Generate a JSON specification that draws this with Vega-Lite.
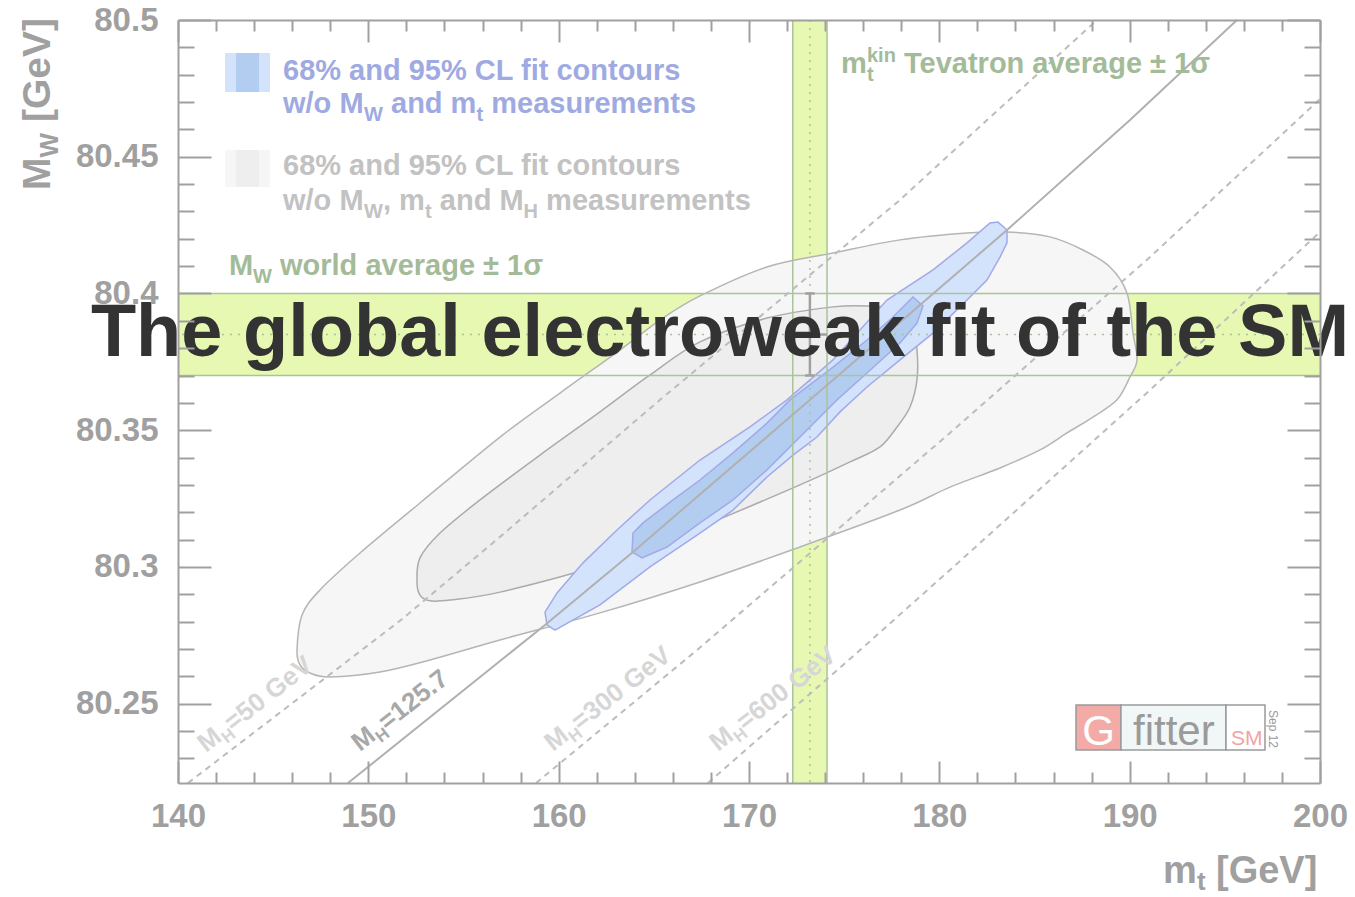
{
  "$schema": "https://vega.github.io/schema/vega-lite/v6.json",
  "width": 1142,
  "height": 763,
  "autosize": "none",
  "padding": {"left": 178, "top": 20, "right": 35, "bottom": 114},
  "background": "white",
  "config": {"view": {"stroke": null}, "font": "Liberation Sans"},
  "resolve": {"axis": {"x": "independent", "y": "independent"}},
  "datasets": {
    "bands": [
      {"b": "h", "x1": 140, "x2": 200, "y1": 80.370, "y2": 80.400},
      {"b": "v", "x1": 172.3, "x2": 174.1, "y1": 80.221, "y2": 80.5}
    ],
    "contours": [
      {"s": "g95", "i": 1, "mt": 146.252, "MW": 80.2696},
      {"s": "g95", "i": 2, "mt": 146.515, "MW": 80.2824},
      {"s": "g95", "i": 3, "mt": 147.461, "MW": 80.2916},
      {"s": "g95", "i": 4, "mt": 149.562, "MW": 80.3051},
      {"s": "g95", "i": 5, "mt": 152.714, "MW": 80.3234},
      {"s": "g95", "i": 6, "mt": 156.918, "MW": 80.3475},
      {"s": "g95", "i": 7, "mt": 160.070, "MW": 80.3636},
      {"s": "g95", "i": 8, "mt": 163.222, "MW": 80.3793},
      {"s": "g95", "i": 9, "mt": 165.324, "MW": 80.3903},
      {"s": "g95", "i": 10, "mt": 167.425, "MW": 80.3991},
      {"s": "g95", "i": 11, "mt": 170.945, "MW": 80.4097},
      {"s": "g95", "i": 12, "mt": 174.413, "MW": 80.4148},
      {"s": "g95", "i": 13, "mt": 177.933, "MW": 80.4196},
      {"s": "g95", "i": 14, "mt": 181.453, "MW": 80.4221},
      {"s": "g95", "i": 15, "mt": 183.555, "MW": 80.4225},
      {"s": "g95", "i": 16, "mt": 185.814, "MW": 80.4207},
      {"s": "g95", "i": 17, "mt": 187.548, "MW": 80.4159},
      {"s": "g95", "i": 18, "mt": 188.966, "MW": 80.4097},
      {"s": "g95", "i": 19, "mt": 189.860, "MW": 80.4002},
      {"s": "g95", "i": 20, "mt": 190.175, "MW": 80.3855},
      {"s": "g95", "i": 21, "mt": 190.385, "MW": 80.3757},
      {"s": "g95", "i": 22, "mt": 190.017, "MW": 80.3695},
      {"s": "g95", "i": 23, "mt": 189.334, "MW": 80.3611},
      {"s": "g95", "i": 24, "mt": 188.073, "MW": 80.3548},
      {"s": "g95", "i": 25, "mt": 186.707, "MW": 80.3490},
      {"s": "g95", "i": 26, "mt": 185.289, "MW": 80.3428},
      {"s": "g95", "i": 27, "mt": 183.187, "MW": 80.3362},
      {"s": "g95", "i": 28, "mt": 180.560, "MW": 80.3292},
      {"s": "g95", "i": 29, "mt": 177.933, "MW": 80.3208},
      {"s": "g95", "i": 30, "mt": 172.679, "MW": 80.3073},
      {"s": "g95", "i": 31, "mt": 167.425, "MW": 80.2945},
      {"s": "g95", "i": 32, "mt": 162.171, "MW": 80.2832},
      {"s": "g95", "i": 33, "mt": 156.918, "MW": 80.2733},
      {"s": "g95", "i": 34, "mt": 153.240, "MW": 80.2660},
      {"s": "g95", "i": 35, "mt": 150.613, "MW": 80.2616},
      {"s": "g95", "i": 36, "mt": 147.986, "MW": 80.2598},
      {"s": "g95", "i": 37, "mt": 146.935, "MW": 80.2612},
      {"s": "g95", "i": 38, "mt": 146.410, "MW": 80.2642},
      {"s": "g68", "i": 1, "mt": 152.557, "MW": 80.2945},
      {"s": "g68", "i": 2, "mt": 152.714, "MW": 80.3033},
      {"s": "g68", "i": 3, "mt": 153.765, "MW": 80.3124},
      {"s": "g68", "i": 4, "mt": 155.867, "MW": 80.3245},
      {"s": "g68", "i": 5, "mt": 159.019, "MW": 80.3409},
      {"s": "g68", "i": 6, "mt": 162.171, "MW": 80.3567},
      {"s": "g68", "i": 7, "mt": 164.798, "MW": 80.3702},
      {"s": "g68", "i": 8, "mt": 167.425, "MW": 80.3823},
      {"s": "g68", "i": 9, "mt": 170.945, "MW": 80.3910},
      {"s": "g68", "i": 10, "mt": 174.413, "MW": 80.3951},
      {"s": "g68", "i": 11, "mt": 176.357, "MW": 80.3954},
      {"s": "g68", "i": 12, "mt": 177.933, "MW": 80.3940},
      {"s": "g68", "i": 13, "mt": 178.564, "MW": 80.3896},
      {"s": "g68", "i": 14, "mt": 178.826, "MW": 80.3793},
      {"s": "g68", "i": 15, "mt": 178.826, "MW": 80.3684},
      {"s": "g68", "i": 16, "mt": 178.459, "MW": 80.3585},
      {"s": "g68", "i": 17, "mt": 177.776, "MW": 80.3512},
      {"s": "g68", "i": 18, "mt": 176.882, "MW": 80.3439},
      {"s": "g68", "i": 19, "mt": 175.306, "MW": 80.3384},
      {"s": "g68", "i": 20, "mt": 172.679, "MW": 80.3300},
      {"s": "g68", "i": 21, "mt": 167.425, "MW": 80.3146},
      {"s": "g68", "i": 22, "mt": 162.171, "MW": 80.3007},
      {"s": "g68", "i": 23, "mt": 156.918, "MW": 80.2908},
      {"s": "g68", "i": 24, "mt": 154.291, "MW": 80.2879},
      {"s": "g68", "i": 25, "mt": 153.240, "MW": 80.2876},
      {"s": "g68", "i": 26, "mt": 152.714, "MW": 80.2897},
      {"s": "b95", "i": 1, "mt": 159.387, "MW": 80.2788},
      {"s": "b95", "i": 2, "mt": 159.282, "MW": 80.2835},
      {"s": "b95", "i": 3, "mt": 159.912, "MW": 80.2905},
      {"s": "b95", "i": 4, "mt": 161.278, "MW": 80.3015},
      {"s": "b95", "i": 5, "mt": 163.065, "MW": 80.3135},
      {"s": "b95", "i": 6, "mt": 164.798, "MW": 80.3245},
      {"s": "b95", "i": 7, "mt": 167.425, "MW": 80.3391},
      {"s": "b95", "i": 8, "mt": 170.052, "MW": 80.3512},
      {"s": "b95", "i": 9, "mt": 171.996, "MW": 80.3611},
      {"s": "b95", "i": 10, "mt": 174.413, "MW": 80.3757},
      {"s": "b95", "i": 11, "mt": 177.249, "MW": 80.3976},
      {"s": "b95", "i": 12, "mt": 179.667, "MW": 80.4086},
      {"s": "b95", "i": 13, "mt": 181.453, "MW": 80.4185},
      {"s": "b95", "i": 14, "mt": 182.662, "MW": 80.4258},
      {"s": "b95", "i": 15, "mt": 183.082, "MW": 80.4261},
      {"s": "b95", "i": 16, "mt": 183.555, "MW": 80.4232},
      {"s": "b95", "i": 17, "mt": 183.555, "MW": 80.4185},
      {"s": "b95", "i": 18, "mt": 183.187, "MW": 80.4133},
      {"s": "b95", "i": 19, "mt": 182.504, "MW": 80.4049},
      {"s": "b95", "i": 20, "mt": 181.453, "MW": 80.3976},
      {"s": "b95", "i": 21, "mt": 179.667, "MW": 80.3855},
      {"s": "b95", "i": 22, "mt": 177.933, "MW": 80.3757},
      {"s": "b95", "i": 23, "mt": 176.199, "MW": 80.3658},
      {"s": "b95", "i": 24, "mt": 174.781, "MW": 80.3567},
      {"s": "b95", "i": 25, "mt": 173.572, "MW": 80.3475},
      {"s": "b95", "i": 26, "mt": 172.311, "MW": 80.3409},
      {"s": "b95", "i": 27, "mt": 170.945, "MW": 80.3329},
      {"s": "b95", "i": 28, "mt": 169.159, "MW": 80.3208},
      {"s": "b95", "i": 29, "mt": 167.425, "MW": 80.3124},
      {"s": "b95", "i": 30, "mt": 164.798, "MW": 80.3000},
      {"s": "b95", "i": 31, "mt": 162.171, "MW": 80.2861},
      {"s": "b95", "i": 32, "mt": 159.807, "MW": 80.2769},
      {"s": "b68", "i": 1, "mt": 163.853, "MW": 80.3055},
      {"s": "b68", "i": 2, "mt": 163.906, "MW": 80.3124},
      {"s": "b68", "i": 3, "mt": 164.431, "MW": 80.3161},
      {"s": "b68", "i": 4, "mt": 166.007, "MW": 80.3245},
      {"s": "b68", "i": 5, "mt": 167.425, "MW": 80.3318},
      {"s": "b68", "i": 6, "mt": 169.159, "MW": 80.3417},
      {"s": "b68", "i": 7, "mt": 170.945, "MW": 80.3526},
      {"s": "b68", "i": 8, "mt": 172.154, "MW": 80.3611},
      {"s": "b68", "i": 9, "mt": 174.413, "MW": 80.3731},
      {"s": "b68", "i": 10, "mt": 176.199, "MW": 80.3830},
      {"s": "b68", "i": 11, "mt": 177.565, "MW": 80.3914},
      {"s": "b68", "i": 12, "mt": 178.616, "MW": 80.3987},
      {"s": "b68", "i": 13, "mt": 179.142, "MW": 80.3954},
      {"s": "b68", "i": 14, "mt": 178.826, "MW": 80.3892},
      {"s": "b68", "i": 15, "mt": 177.933, "MW": 80.3819},
      {"s": "b68", "i": 16, "mt": 176.199, "MW": 80.3709},
      {"s": "b68", "i": 17, "mt": 174.623, "MW": 80.3611},
      {"s": "b68", "i": 18, "mt": 172.679, "MW": 80.3475},
      {"s": "b68", "i": 19, "mt": 170.945, "MW": 80.3355},
      {"s": "b68", "i": 20, "mt": 169.159, "MW": 80.3245},
      {"s": "b68", "i": 21, "mt": 167.425, "MW": 80.3161},
      {"s": "b68", "i": 22, "mt": 165.692, "MW": 80.3073},
      {"s": "b68", "i": 23, "mt": 164.378, "MW": 80.3033}
    ],
    "mhlines": [
      {"mh": "125.7", "i": 1, "mt": 148.932, "MW": 80.221},
      {"mh": "125.7", "i": 2, "mt": 159.282, "MW": 80.2788},
      {"mh": "125.7", "i": 3, "mt": 163.906, "MW": 80.3055},
      {"mh": "125.7", "i": 4, "mt": 173.205, "MW": 80.3611},
      {"mh": "125.7", "i": 5, "mt": 183.555, "MW": 80.4232},
      {"mh": "125.7", "i": 6, "mt": 190.017, "MW": 80.4634},
      {"mh": "125.7", "i": 7, "mt": 195.639, "MW": 80.5},
      {"mh": "50", "i": 1, "mt": 140.525, "MW": 80.221},
      {"mh": "50", "i": 2, "mt": 151.716, "MW": 80.2806},
      {"mh": "50", "i": 3, "mt": 156.918, "MW": 80.3110},
      {"mh": "50", "i": 4, "mt": 165.324, "MW": 80.3611},
      {"mh": "50", "i": 5, "mt": 177.933, "MW": 80.4342},
      {"mh": "50", "i": 6, "mt": 182.504, "MW": 80.4634},
      {"mh": "50", "i": 7, "mt": 188.283, "MW": 80.5},
      {"mh": "300", "i": 1, "mt": 158.809, "MW": 80.221},
      {"mh": "300", "i": 2, "mt": 167.268, "MW": 80.2696},
      {"mh": "300", "i": 3, "mt": 180.560, "MW": 80.3490},
      {"mh": "300", "i": 4, "mt": 191.068, "MW": 80.4133},
      {"mh": "300", "i": 5, "mt": 200, "MW": 80.4711},
      {"mh": "600", "i": 1, "mt": 167.846, "MW": 80.221},
      {"mh": "600", "i": 2, "mt": 175.832, "MW": 80.2696},
      {"mh": "600", "i": 3, "mt": 180.560, "MW": 80.2989},
      {"mh": "600", "i": 4, "mt": 191.068, "MW": 80.3647},
      {"mh": "600", "i": 5, "mt": 200, "MW": 80.4225}
    ],
    "errbars": [
      {"mt": 173.2, "mt2": 173.2, "MW": 80.370, "MW2": 80.400},
      {"mt": 172.3, "mt2": 174.1, "MW": 80.385, "MW2": 80.385},
      {"mt": 172.95, "mt2": 173.45, "MW": 80.400, "MW2": 80.400},
      {"mt": 172.95, "mt2": 173.45, "MW": 80.370, "MW2": 80.370}
    ],
    "rects": [
      {"c": "b95", "x1": 142.469, "x2": 144.834, "y1": 80.4737, "y2": 80.4879},
      {"c": "b68", "x1": 143.047, "x2": 144.256, "y1": 80.4737, "y2": 80.4879},
      {"c": "g95", "x1": 142.469, "x2": 144.834, "y1": 80.4389, "y2": 80.4525},
      {"c": "g68", "x1": 143.047, "x2": 144.256, "y1": 80.4389, "y2": 80.4525},
      {"c": "G", "x1": 187.180, "x2": 189.544, "y1": 80.2331, "y2": 80.2495},
      {"c": "fitter", "x1": 189.544, "x2": 195.061, "y1": 80.2331, "y2": 80.2495},
      {"c": "SM", "x1": 195.061, "x2": 197.110, "y1": 80.2331, "y2": 80.2495}
    ],
    "texts": [
      {"g": "blue", "t": "68% and 95% CL fit contours", "mt": 145.517, "MW": 80.4781},
      {"g": "blue", "t": "w/o M", "mt": 145.517, "MW": 80.4660},
      {"g": "blueSub", "t": "W", "mt": 149.772, "MW": 80.4631},
      {"g": "blue", "t": "and m", "mt": 151.191, "MW": 80.4660},
      {"g": "blueSub", "t": "t", "mt": 155.683, "MW": 80.4631},
      {"g": "blue", "t": "measurements", "mt": 156.461, "MW": 80.4660},
      {"g": "gray", "t": "68% and 95% CL fit contours", "mt": 145.517, "MW": 80.4433},
      {"g": "gray", "t": "w/o M", "mt": 145.517, "MW": 80.4305},
      {"g": "graySub", "t": "W", "mt": 149.772, "MW": 80.4276},
      {"g": "gray", "t": ", m", "mt": 150.770, "MW": 80.4305},
      {"g": "graySub", "t": "t", "mt": 152.977, "MW": 80.4276},
      {"g": "gray", "t": "and M", "mt": 153.755, "MW": 80.4305},
      {"g": "graySub", "t": "H", "mt": 158.152, "MW": 80.4276},
      {"g": "gray", "t": "measurements", "mt": 159.340, "MW": 80.4305},
      {"g": "green", "t": "M", "mt": 142.679, "MW": 80.4068},
      {"g": "greenSub", "t": "W", "mt": 143.940, "MW": 80.4038},
      {"g": "green", "t": "world average ± 1σ", "mt": 145.359, "MW": 80.4068},
      {"g": "green", "t": "m", "mt": 174.833, "MW": 80.4806},
      {"g": "greenSub", "t": "t", "mt": 176.199, "MW": 80.4777},
      {"g": "greenSub", "t": "kin", "mt": 176.199, "MW": 80.4846},
      {"g": "green", "t": "Tevatron average ± 1σ", "mt": 178.143, "MW": 80.4806},
      {"g": "axis", "t": "m", "mt": 191.751, "MW": 80.1844},
      {"g": "axisSub", "t": "t", "mt": 193.537, "MW": 80.1819},
      {"g": "axis", "t": "[GeV]", "mt": 194.536, "MW": 80.1844},
      {"g": "yaxis", "t": "M", "mt": 133.275, "MW": 80.4378},
      {"g": "yaxisSub", "t": "W", "mt": 133.70, "MW": 80.4497},
      {"g": "yaxis", "t": "[GeV]", "mt": 133.275, "MW": 80.4627},
      {"g": "logoG", "t": "G", "mt": 188.365, "MW": 80.2349},
      {"g": "logoFitter", "t": "fitter", "mt": 190.175, "MW": 80.2349},
      {"g": "logoSM", "t": "SM", "mt": 195.324, "MW": 80.2349},
      {"g": "logoDate", "t": "Sep 12", "mt": 197.320, "MW": 80.2477},
      {"g": "title", "t": "The global electroweak fit of the SM", "mt": 168.476, "MW": 80.3771}
    ],
    "linelabels": [
      {"kind": "dashed", "rest": "=50 GeV", "mt": 141.471, "MW": 80.2320},
      {"kind": "solid", "rest": "=125.7", "mt": 149.562, "MW": 80.2323},
      {"kind": "dashed", "rest": "=300 GeV", "mt": 159.702, "MW": 80.2323},
      {"kind": "dashed", "rest": "=600 GeV", "mt": 168.371, "MW": 80.2323}
    ]
  },
  "layer": [
    {
      "data": {"name": "bands"},
      "mark": {"type": "rect", "color": "#e7f8b3"},
      "encoding": {
        "x": {"field": "x1", "type": "quantitative", "scale": {"domain": [140, 200], "nice": false, "zero": false},
          "axis": {"orient": "bottom", "values": [140,142,144,146,148,150,152,154,156,158,160,162,164,166,168,170,172,174,176,178,180,182,184,186,188,190,192,194,196,198,200],
            "title": null, "grid": false, "zindex": 1, "domainColor": "#a0a0a0", "domainWidth": 2, "tickColor": "#a0a0a0", "tickWidth": 2,
            "tickSize": {"condition": {"test": "datum.value % 10 === 0", "value": -22}, "value": -11},
            "labelExpr": "datum.value % 10 === 0 ? datum.label : ''", "labelPadding": 39, "labelFontSize": 33, "labelFontWeight": "bold",
            "labelColor": "#a0a0a0", "labelFont": "Liberation Sans", "labelOverlap": false, "labelFlush": false, "labelBound": false}},
        "x2": {"field": "x2"},
        "y": {"field": "y1", "type": "quantitative", "scale": {"domain": [80.221, 80.5], "nice": false, "zero": false},
          "axis": {"orient": "left", "values": [80.23,80.24,80.25,80.26,80.27,80.28,80.29,80.3,80.31,80.32,80.33,80.34,80.35,80.36,80.37,80.38,80.39,80.4,80.41,80.42,80.43,80.44,80.45,80.46,80.47,80.48,80.49,80.5],
            "title": null, "grid": false, "zindex": 1, "domainColor": "#a0a0a0", "domainWidth": 2, "tickColor": "#a0a0a0", "tickWidth": 2,
            "tickSize": {"condition": {"test": "abs(datum.value*20 - round(datum.value*20)) < 0.001", "value": -33}, "value": -16},
            "labelExpr": "abs(datum.value*20 - round(datum.value*20)) < 0.001 ? toString(round(datum.value*100)/100) : ''",
            "labelPadding": 53, "labelFontSize": 33, "labelFontWeight": "bold", "labelColor": "#a0a0a0", "labelFont": "Liberation Sans",
            "labelOverlap": false, "labelFlush": false, "labelBound": false}},
        "y2": {"field": "y2"}
      }
    },
    {
      "data": {"name": "contours"},
      "transform": [{"filter": "datum.s === 'g95'"}],
      "mark": {"type": "line", "interpolate": "cardinal-closed", "fill": "#f6f6f6", "stroke": "#b5b5b5", "strokeWidth": 1.5},
      "encoding": {
        "x": {"field": "mt", "type": "quantitative",
          "axis": {"orient": "top", "values": [140,142,144,146,148,150,152,154,156,158,160,162,164,166,168,170,172,174,176,178,180,182,184,186,188,190,192,194,196,198,200],
            "title": null, "grid": false, "zindex": 1, "labels": false, "domainColor": "#a0a0a0", "domainWidth": 2, "tickColor": "#a0a0a0", "tickWidth": 2,
            "tickSize": {"condition": {"test": "datum.value % 10 === 0", "value": -22}, "value": -11}}},
        "y": {"field": "MW", "type": "quantitative",
          "axis": {"orient": "right", "values": [80.23,80.24,80.25,80.26,80.27,80.28,80.29,80.3,80.31,80.32,80.33,80.34,80.35,80.36,80.37,80.38,80.39,80.4,80.41,80.42,80.43,80.44,80.45,80.46,80.47,80.48,80.49,80.5],
            "title": null, "grid": false, "zindex": 1, "labels": false, "domainColor": "#a0a0a0", "domainWidth": 2, "tickColor": "#a0a0a0", "tickWidth": 2,
            "tickSize": {"condition": {"test": "abs(datum.value*20 - round(datum.value*20)) < 0.001", "value": -33}, "value": -16}}},
        "order": {"field": "i", "type": "quantitative"}
      }
    },
    {
      "data": {"name": "contours"},
      "transform": [{"filter": "datum.s === 'g68'"}],
      "mark": {"type": "line", "interpolate": "cardinal-closed", "fill": "#eeeeee", "stroke": "#ababab", "strokeWidth": 1.5},
      "encoding": {
        "x": {"field": "mt", "type": "quantitative", "axis": null},
        "y": {"field": "MW", "type": "quantitative", "axis": null},
        "order": {"field": "i", "type": "quantitative"}
      }
    },
    {
      "data": {"name": "contours"},
      "transform": [{"filter": "datum.s === 'b95'"}],
      "mark": {"type": "line", "interpolate": "linear-closed", "fill": "#d3e3fb", "stroke": "#a2a9e8", "strokeWidth": 1.5},
      "encoding": {
        "x": {"field": "mt", "type": "quantitative", "axis": null},
        "y": {"field": "MW", "type": "quantitative", "axis": null},
        "order": {"field": "i", "type": "quantitative"}
      }
    },
    {
      "data": {"name": "contours"},
      "transform": [{"filter": "datum.s === 'b68'"}],
      "mark": {"type": "line", "interpolate": "linear-closed", "fill": "#b3cdf1", "stroke": "#a2a9e8", "strokeWidth": 1.5},
      "encoding": {
        "x": {"field": "mt", "type": "quantitative", "axis": null},
        "y": {"field": "MW", "type": "quantitative", "axis": null},
        "order": {"field": "i", "type": "quantitative"}
      }
    },
    {
      "data": {"values": [{"MW": 80.370}, {"MW": 80.400}]},
      "mark": {"type": "rule", "color": "#a9c39b", "strokeWidth": 1.5},
      "encoding": {"y": {"field": "MW", "type": "quantitative", "axis": null}}
    },
    {
      "data": {"values": [{"mt": 172.3}, {"mt": 174.1}]},
      "mark": {"type": "rule", "color": "#a9c39b", "strokeWidth": 1.5},
      "encoding": {"x": {"field": "mt", "type": "quantitative", "axis": null}}
    },
    {
      "data": {"values": [{"MW": 80.385}]},
      "mark": {"type": "rule", "color": "#a9c39b", "strokeWidth": 1.5, "strokeDash": [2, 6]},
      "encoding": {"y": {"field": "MW", "type": "quantitative", "axis": null}}
    },
    {
      "data": {"values": [{"mt": 173.2}]},
      "mark": {"type": "rule", "color": "#a9c39b", "strokeWidth": 1.5, "strokeDash": [2, 6]},
      "encoding": {"x": {"field": "mt", "type": "quantitative", "axis": null}}
    },
    {
      "data": {"name": "mhlines"},
      "transform": [{"filter": "datum.mh !== '125.7'"}],
      "mark": {"type": "line", "color": "#bcbcbc", "strokeWidth": 2, "strokeDash": [6, 5]},
      "encoding": {
        "x": {"field": "mt", "type": "quantitative", "axis": null},
        "y": {"field": "MW", "type": "quantitative", "axis": null},
        "detail": {"field": "mh"},
        "order": {"field": "i", "type": "quantitative"}
      }
    },
    {
      "data": {"name": "mhlines"},
      "transform": [{"filter": "datum.mh === '125.7'"}],
      "mark": {"type": "line", "color": "#b0b0b0", "strokeWidth": 2},
      "encoding": {
        "x": {"field": "mt", "type": "quantitative", "axis": null},
        "y": {"field": "MW", "type": "quantitative", "axis": null},
        "order": {"field": "i", "type": "quantitative"}
      }
    },
    {
      "data": {"name": "errbars"},
      "mark": {"type": "rule", "color": "#a0a0a0", "strokeWidth": 2.5},
      "encoding": {
        "x": {"field": "mt", "type": "quantitative", "axis": null},
        "x2": {"field": "mt2"},
        "y": {"field": "MW", "type": "quantitative", "axis": null},
        "y2": {"field": "MW2"}
      }
    },
    {
      "data": {"name": "rects"},
      "transform": [{"filter": "indexof(['b95','b68','g95','g68'], datum.c) >= 0"}],
      "mark": {"type": "rect"},
      "encoding": {
        "x": {"field": "x1", "type": "quantitative", "axis": null},
        "x2": {"field": "x2"},
        "y": {"field": "y1", "type": "quantitative", "axis": null},
        "y2": {"field": "y2"},
        "fill": {"field": "c", "type": "nominal", "legend": null,
          "scale": {"domain": ["b95", "b68", "g95", "g68", "G", "fitter", "SM"], "range": ["#d3e3fb", "#b3cdf1", "#f6f6f6", "#eeeeee", "#f3aba7", "#f1f6f6", "#ffffff"]}}
      }
    },
    {
      "data": {"name": "rects"},
      "transform": [{"filter": "indexof(['G','fitter','SM'], datum.c) >= 0"}],
      "mark": {"type": "rect", "stroke": "#9a9a9a", "strokeWidth": 1.5},
      "encoding": {
        "x": {"field": "x1", "type": "quantitative", "axis": null},
        "x2": {"field": "x2"},
        "y": {"field": "y1", "type": "quantitative", "axis": null},
        "y2": {"field": "y2"},
        "fill": {"field": "c", "type": "nominal", "legend": null,
          "scale": {"domain": ["b95", "b68", "g95", "g68", "G", "fitter", "SM"], "range": ["#d3e3fb", "#b3cdf1", "#f6f6f6", "#eeeeee", "#f3aba7", "#f1f6f6", "#ffffff"]}}
      }
    },
    {
      "data": {"name": "texts"},
      "transform": [{"filter": "datum.g === 'blue'"}],
      "mark": {"type": "text", "align": "left", "baseline": "alphabetic", "fontSize": 29, "fontWeight": "bold", "color": "#a0aae2"},
      "encoding": {"x": {"field": "mt", "type": "quantitative", "axis": null}, "y": {"field": "MW", "type": "quantitative", "axis": null}, "text": {"field": "t"}}
    },
    {
      "data": {"name": "texts"},
      "transform": [{"filter": "datum.g === 'blueSub'"}],
      "mark": {"type": "text", "align": "left", "baseline": "alphabetic", "fontSize": 20, "fontWeight": "bold", "color": "#a0aae2"},
      "encoding": {"x": {"field": "mt", "type": "quantitative", "axis": null}, "y": {"field": "MW", "type": "quantitative", "axis": null}, "text": {"field": "t"}}
    },
    {
      "data": {"name": "texts"},
      "transform": [{"filter": "datum.g === 'gray'"}],
      "mark": {"type": "text", "align": "left", "baseline": "alphabetic", "fontSize": 29, "fontWeight": "bold", "color": "#c2c2c2"},
      "encoding": {"x": {"field": "mt", "type": "quantitative", "axis": null}, "y": {"field": "MW", "type": "quantitative", "axis": null}, "text": {"field": "t"}}
    },
    {
      "data": {"name": "texts"},
      "transform": [{"filter": "datum.g === 'graySub'"}],
      "mark": {"type": "text", "align": "left", "baseline": "alphabetic", "fontSize": 20, "fontWeight": "bold", "color": "#c2c2c2"},
      "encoding": {"x": {"field": "mt", "type": "quantitative", "axis": null}, "y": {"field": "MW", "type": "quantitative", "axis": null}, "text": {"field": "t"}}
    },
    {
      "data": {"name": "texts"},
      "transform": [{"filter": "datum.g === 'green'"}],
      "mark": {"type": "text", "align": "left", "baseline": "alphabetic", "fontSize": 29, "fontWeight": "bold", "color": "#a3bb98"},
      "encoding": {"x": {"field": "mt", "type": "quantitative", "axis": null}, "y": {"field": "MW", "type": "quantitative", "axis": null}, "text": {"field": "t"}}
    },
    {
      "data": {"name": "texts"},
      "transform": [{"filter": "datum.g === 'greenSub'"}],
      "mark": {"type": "text", "align": "left", "baseline": "alphabetic", "fontSize": 20, "fontWeight": "bold", "color": "#a3bb98"},
      "encoding": {"x": {"field": "mt", "type": "quantitative", "axis": null}, "y": {"field": "MW", "type": "quantitative", "axis": null}, "text": {"field": "t"}}
    },
    {
      "data": {"name": "texts"},
      "transform": [{"filter": "datum.g === 'axis'"}],
      "mark": {"type": "text", "align": "left", "baseline": "alphabetic", "fontSize": 38, "fontWeight": "bold", "color": "#a0a0a0"},
      "encoding": {"x": {"field": "mt", "type": "quantitative", "axis": null}, "y": {"field": "MW", "type": "quantitative", "axis": null}, "text": {"field": "t"}}
    },
    {
      "data": {"name": "texts"},
      "transform": [{"filter": "datum.g === 'axisSub'"}],
      "mark": {"type": "text", "align": "left", "baseline": "alphabetic", "fontSize": 26, "fontWeight": "bold", "color": "#a0a0a0"},
      "encoding": {"x": {"field": "mt", "type": "quantitative", "axis": null}, "y": {"field": "MW", "type": "quantitative", "axis": null}, "text": {"field": "t"}}
    },
    {
      "data": {"name": "texts"},
      "transform": [{"filter": "datum.g === 'yaxis'"}],
      "mark": {"type": "text", "align": "left", "baseline": "alphabetic", "fontSize": 39, "fontWeight": "bold", "color": "#a0a0a0", "angle": -90},
      "encoding": {"x": {"field": "mt", "type": "quantitative", "axis": null}, "y": {"field": "MW", "type": "quantitative", "axis": null}, "text": {"field": "t"}}
    },
    {
      "data": {"name": "texts"},
      "transform": [{"filter": "datum.g === 'yaxisSub'"}],
      "mark": {"type": "text", "align": "left", "baseline": "alphabetic", "fontSize": 26, "fontWeight": "bold", "color": "#a0a0a0", "angle": -90},
      "encoding": {"x": {"field": "mt", "type": "quantitative", "axis": null}, "y": {"field": "MW", "type": "quantitative", "axis": null}, "text": {"field": "t"}}
    },
    {
      "data": {"name": "linelabels"},
      "mark": {"type": "text", "align": "left", "baseline": "alphabetic", "fontSize": 26, "fontWeight": "bold", "angle": -38},
      "encoding": {"x": {"field": "mt", "type": "quantitative", "axis": null}, "y": {"field": "MW", "type": "quantitative", "axis": null},
        "text": {"value": "M"},
        "color": {"field": "kind", "type": "nominal", "legend": null, "scale": {"domain": ["dashed", "solid"], "range": ["#d6d6d6", "#a8a8a8"]}}}
    },
    {
      "data": {"name": "linelabels"},
      "mark": {"type": "text", "align": "left", "baseline": "alphabetic", "fontSize": 17, "fontWeight": "bold", "angle": -38, "dx": 22, "dy": 6},
      "encoding": {"x": {"field": "mt", "type": "quantitative", "axis": null}, "y": {"field": "MW", "type": "quantitative", "axis": null},
        "text": {"value": "H"},
        "color": {"field": "kind", "type": "nominal", "legend": null, "scale": {"domain": ["dashed", "solid"], "range": ["#d6d6d6", "#a8a8a8"]}}}
    },
    {
      "data": {"name": "linelabels"},
      "mark": {"type": "text", "align": "left", "baseline": "alphabetic", "fontSize": 26, "fontWeight": "bold", "angle": -38, "dx": 34},
      "encoding": {"x": {"field": "mt", "type": "quantitative", "axis": null}, "y": {"field": "MW", "type": "quantitative", "axis": null},
        "text": {"field": "rest"},
        "color": {"field": "kind", "type": "nominal", "legend": null, "scale": {"domain": ["dashed", "solid"], "range": ["#d6d6d6", "#a8a8a8"]}}}
    },
    {
      "data": {"name": "texts"},
      "transform": [{"filter": "datum.g === 'logoG'"}],
      "mark": {"type": "text", "align": "center", "baseline": "alphabetic", "fontSize": 42, "color": "#ffffff"},
      "encoding": {"x": {"field": "mt", "type": "quantitative", "axis": null}, "y": {"field": "MW", "type": "quantitative", "axis": null}, "text": {"field": "t"}}
    },
    {
      "data": {"name": "texts"},
      "transform": [{"filter": "datum.g === 'logoFitter'"}],
      "mark": {"type": "text", "align": "left", "baseline": "alphabetic", "fontSize": 42, "color": "#9a9a9a"},
      "encoding": {"x": {"field": "mt", "type": "quantitative", "axis": null}, "y": {"field": "MW", "type": "quantitative", "axis": null}, "text": {"field": "t"}}
    },
    {
      "data": {"name": "texts"},
      "transform": [{"filter": "datum.g === 'logoSM'"}],
      "mark": {"type": "text", "align": "left", "baseline": "alphabetic", "fontSize": 21, "color": "#f4a3a3"},
      "encoding": {"x": {"field": "mt", "type": "quantitative", "axis": null}, "y": {"field": "MW", "type": "quantitative", "axis": null}, "text": {"field": "t"}}
    },
    {
      "data": {"name": "texts"},
      "transform": [{"filter": "datum.g === 'logoDate'"}],
      "mark": {"type": "text", "align": "left", "baseline": "alphabetic", "fontSize": 12, "color": "#9a9a9a", "angle": 90},
      "encoding": {"x": {"field": "mt", "type": "quantitative", "axis": null}, "y": {"field": "MW", "type": "quantitative", "axis": null}, "text": {"field": "t"}}
    },
    {
      "data": {"name": "texts"},
      "transform": [{"filter": "datum.g === 'title'"}],
      "mark": {"type": "text", "align": "center", "baseline": "alphabetic", "fontSize": 74, "fontWeight": "bold", "color": "#333333"},
      "encoding": {"x": {"field": "mt", "type": "quantitative", "axis": null}, "y": {"field": "MW", "type": "quantitative", "axis": null}, "text": {"field": "t"}}
    }
  ]
}
